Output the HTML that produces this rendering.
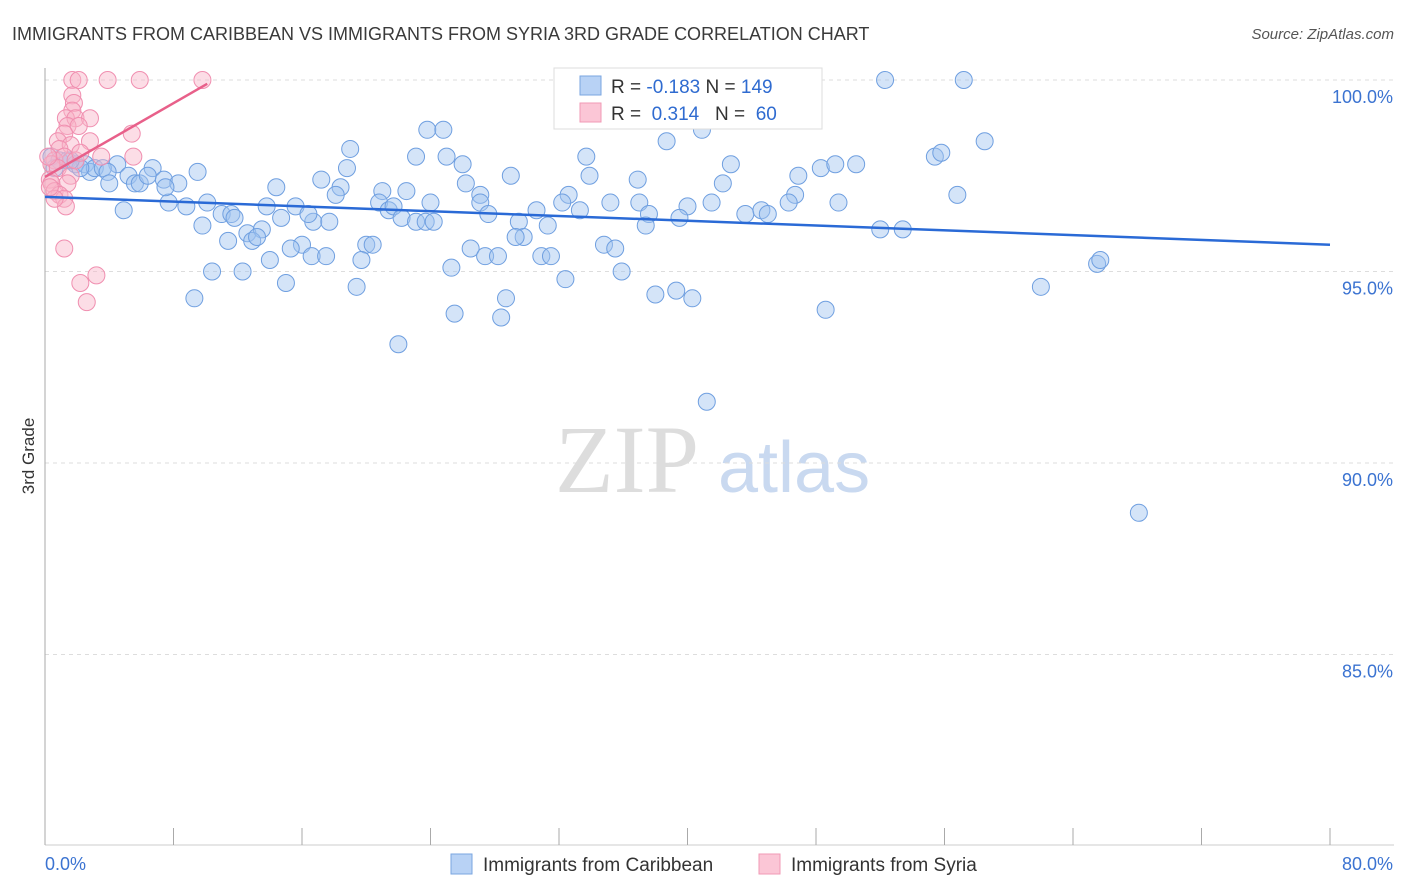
<!DOCTYPE html>
<html><head><meta charset="utf-8"><style>
body{margin:0;background:#fff;font-family:"Liberation Sans",sans-serif;}
svg{display:block}
</style></head><body>
<svg id="chart" width="1406" height="892">
<text x="12" y="40" font-size="18" fill="#3a3a3a">IMMIGRANTS FROM CARIBBEAN VS IMMIGRANTS FROM SYRIA 3RD GRADE CORRELATION CHART</text>
<text x="1394" y="39" font-size="15" fill="#555" font-style="italic" text-anchor="end">Source: ZipAtlas.com</text>
<text transform="translate(34,456) rotate(-90)" font-size="17" fill="#333" text-anchor="middle">3rd Grade</text>
<text x="555" y="492" font-size="96" fill="#ddd" font-family="Liberation Serif">ZIP</text>
<text x="718" y="492" font-size="72" fill="#c9d9f0">atlas</text>
<g id="grid"></g><g id="axes"></g><g id="pts"></g><g id="lines"></g>
<g>
<rect x="554" y="68" width="268" height="61" fill="#fff" stroke="#ddd"/>
<rect x="580" y="76" width="21" height="19" fill="#b8d2f5" stroke="#7aa6e0"/>
<rect x="580" y="103" width="21" height="19" fill="#fbc6d6" stroke="#f09ab5"/>
<text x="611" y="93" font-size="19" fill="#333">R = <tspan fill="#2f6bd0">-0.183</tspan>   N = <tspan fill="#2f6bd0">149</tspan></text>
<text x="611" y="120" font-size="19" fill="#333" xml:space="preserve">R =  <tspan fill="#2f6bd0">0.314</tspan>   N =  <tspan fill="#2f6bd0">60</tspan></text>
</g>
<g>
<rect x="451" y="854" width="21" height="20" fill="#b8d2f5" stroke="#7aa6e0"/>
<text x="483" y="871" font-size="19" fill="#333">Immigrants from Caribbean</text>
<rect x="759" y="854" width="21" height="20" fill="#fbc6d6" stroke="#f09ab5"/>
<text x="791" y="871" font-size="19" fill="#333">Immigrants from Syria</text>
</g>
</svg>
<script>
const yTicks=[100,95,90,85];
const yTickLabels=["100.0%","95.0%","90.0%","85.0%"];
const xTicks=[0,8,16,24,32,40,48,56,64,72,80];
const xLabelVals=[0,80];
const xLabels=["0.0%","80.0%"];
const blueX=[52.3,57.2,23.8,24.8,40.9,38.7,58.5,19.0,23.1,25.0,33.7,55.4,55.8,26.0,18.8,42.7,48.3,49.2,50.5,4.5,6.7,9.5,46.9,33.9,29.0,17.2,36.9,26.2,42.2,14.4,18.4,22.5,21.0,32.6,27.1,46.7,56.8,18.1,32.2,35.2,37.0,41.5,20.8,24.0,27.1,46.3,49.4,10.1,7.7,8.8,13.8,15.6,21.4,21.7,30.6,40.0,4.9,33.3,37.6,43.6,44.6,45.0,27.6,11.0,11.6,11.8,22.2,14.7,16.7,17.7,16.4,23.1,23.7,24.2,29.5,39.5,37.4,9.8,31.3,12.6,13.5,29.8,29.3,52.0,53.4,11.4,12.9,13.2,20.0,20.4,16.0,15.3,34.8,35.5,26.5,16.6,17.5,27.4,28.2,30.9,31.5,14.0,19.7,65.5,65.7,25.3,10.4,12.3,35.9,32.4,15.0,19.4,39.3,38.0,40.3,62.0,9.3,28.7,48.6,25.5,28.4,22.0,41.2,68.1,0.4,0.9,1.4,1.9,2.5,2.8,3.1,3.6,3.9,5.2,5.6,5.9,6.4,7.4,8.3,7.5,4.0,2.2,1.6,0.6];
const blueY=[100,100,98.7,98.7,98.7,98.4,98.4,98.2,98.0,98.0,98.0,98.0,98.1,97.8,97.7,97.8,97.7,97.8,97.8,97.8,97.7,97.6,97.5,97.5,97.5,97.4,97.4,97.3,97.3,97.2,97.2,97.1,97.1,97.0,97.0,97.0,97.0,97.0,96.8,96.8,96.8,96.8,96.8,96.8,96.8,96.8,96.8,96.8,96.8,96.7,96.7,96.7,96.6,96.7,96.6,96.7,96.6,96.6,96.5,96.5,96.6,96.5,96.5,96.5,96.5,96.4,96.4,96.4,96.3,96.3,96.5,96.3,96.3,96.3,96.3,96.4,96.2,96.2,96.2,96.0,96.1,95.9,95.9,96.1,96.1,95.8,95.8,95.9,95.7,95.7,95.7,95.6,95.7,95.6,95.6,95.4,95.4,95.4,95.4,95.4,95.4,95.3,95.3,95.2,95.3,95.1,95.0,95.0,95.0,94.8,94.7,94.6,94.5,94.4,94.3,94.6,94.3,94.3,94.0,93.9,93.8,93.1,91.6,88.7,98.0,97.9,97.9,97.8,97.8,97.6,97.7,97.7,97.6,97.5,97.3,97.3,97.5,97.4,97.3,97.2,97.3,97.7,97.9,97.7];
const pinkX=[1.7,2.1,3.9,5.9,9.8,1.7,1.8,1.7,1.3,1.9,2.8,1.4,2.1,1.2,5.4,0.8,2.8,1.6,0.9,3.5,5.5,0.6,1.2,0.4,0.8,1.6,0.3,1.4,0.4,0.6,0.9,1.2,1.3,0.6,0.3,1.2,3.2,2.2,2.6,1.9,0.2,2.2];
const pinkY=[100,100,100,100,100,99.6,99.4,99.2,99.0,99.0,99.0,98.8,98.8,98.6,98.6,98.4,98.4,98.3,98.2,98.0,98.0,97.9,98.0,97.8,97.7,97.5,97.4,97.3,97.3,97.1,97.0,96.9,96.7,96.9,97.2,95.6,94.9,94.7,94.2,97.9,98.0,98.1];
const blueLineX=[0,80], blueLineY=[96.95,95.7];
const pinkLineX=[0,10.1], pinkLineY=[97.47,99.9];
const X=v=>45+v/80*1285, Y=v=>80+(100-v)*38.3;
const NS="http://www.w3.org/2000/svg";
function mk(t,a,p){const e=document.createElementNS(NS,t);for(const k in a)e.setAttribute(k,a[k]);p.appendChild(e);return e;}
const grid=document.getElementById('grid'),axes=document.getElementById('axes'),pts=document.getElementById('pts'),lines=document.getElementById('lines');
yTicks.forEach((v,i)=>{
 const l=mk('line',{x1:45,x2:1394,y1:Y(v),y2:Y(v),stroke:'#ddd','stroke-dasharray':'4,4'},grid);
 
 
 const t=mk('text',{x:1393,y:Y(v)+23,'font-size':18,fill:'#3b73d1','text-anchor':'end'},axes);
 t.textContent=yTickLabels[i];
 
 
});
const ax=mk('line',{x1:45,x2:45,y1:68,y2:845,stroke:'#aaa'},axes);


const bx=mk('line',{x1:45,x2:1394,y1:845,y2:845,stroke:'#ccc'},axes);


xTicks.forEach(v=>{
 const l=mk('line',{x1:X(v),x2:X(v),y1:828,y2:845,stroke:'#aaa'},axes);
 
 
});
xLabelVals.forEach((v,i)=>{
 const t=mk('text',{x:v===0?45:1393,y:870,'font-size':18,fill:'#3b73d1','text-anchor':v===0?'start':'end'},axes);
 t.textContent=xLabels[i];
 
 
});
blueX.forEach((v,i)=>{
 const c=mk('circle',{cx:X(v),cy:Y(blueY[i]),r:8.5,fill:'rgba(160,196,240,0.45)',stroke:'#6f9fe0','stroke-width':1},pts);
 
 
});
pinkX.forEach((v,i)=>{
 const c=mk('circle',{cx:X(v),cy:Y(pinkY[i]),r:8.5,fill:'rgba(248,180,200,0.45)',stroke:'#f08fb0','stroke-width':1},pts);
 
 
});
const bl=mk('line',{x1:X(blueLineX[0]),y1:Y(blueLineY[0]),x2:X(blueLineX[1]),y2:Y(blueLineY[1]),stroke:'#2a6ad6','stroke-width':2.5},lines);


const pl=mk('line',{x1:X(pinkLineX[0]),y1:Y(pinkLineY[0]),x2:X(pinkLineX[1]),y2:Y(pinkLineY[1]),stroke:'#e8608a','stroke-width':2.5},lines);


</script>
</body></html>
